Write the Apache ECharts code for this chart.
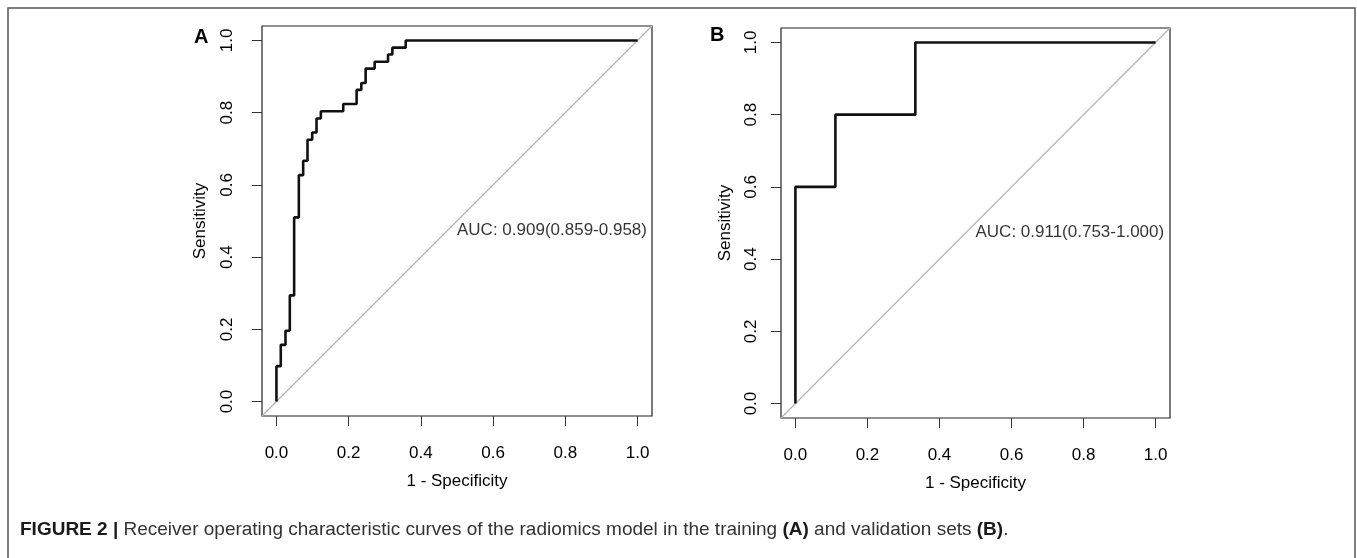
<!DOCTYPE html>
<html>
<head>
<meta charset="utf-8">
<title>ROC curves</title>
<script src="https://cdn.jsdelivr.net/npm/echarts@6/dist/echarts.min.js"></script>
<style>
html,body{margin:0;padding:0;background:#fff;}
#main{width:1357px;height:558px;}
</style>
</head>
<body>
<div id="main"></div>
<script>
// tick positions shared by both panels
var tickValues = [0, 0.2, 0.4, 0.6, 0.8, 1.0];

// training set ROC (1 - specificity, sensitivity)
var fprA = [0, 0, 0.012, 0.025, 0.037, 0.049, 0.062, 0.074, 0.086, 0.099, 0.111, 0.123, 0.185, 0.222, 0.235, 0.247, 0.272, 0.309, 0.321, 0.358, 1];
var tprA = [0, 0.098, 0.157, 0.196, 0.294, 0.510, 0.627, 0.667, 0.725, 0.745, 0.784, 0.804, 0.824, 0.863, 0.882, 0.922, 0.941, 0.961, 0.980, 1, 1];

// validation set ROC, panel B
var fprB = [0, 0, 0.111, 0.333, 1];
var tprB = [0, 0.6, 0.8, 1, 1];

// reference diagonal, corner to corner of the plot box
var diagEnds = [-0.04, 1.04];

var aucTextA = 'AUC: 0.909(0.859-0.958)';
var aucTextB = 'AUC: 0.911(0.753-1.000)';
var aucPos = [0.5, 0.475];

var fontFam = '"Liberation Sans", Arial, sans-serif';
var myChart = echarts.init(document.getElementById('main'));

function zipPts(xs, ys) {
    var out = [];
    for (var i = 0; i < xs.length; i++) out.push([xs[i], ys[i]]);
    return out;
}

function xAxisOf(idx, labelMargin, nameGap) {
    return {
        type: 'value', gridIndex: idx, min: -0.04, max: 1.04,
        name: '1 - Specificity', nameLocation: 'middle', nameGap: nameGap,
        nameTextStyle: {fontSize: 17, color: '#000', fontFamily: fontFam},
        axisLine: {show: false, onZero: false},
        axisTick: {show: true, inside: false, length: 10, customValues: tickValues, lineStyle: {color: '#333', width: 1}},
        axisLabel: {customValues: tickValues, margin: labelMargin, fontSize: 17, color: '#000', fontFamily: fontFam,
            formatter: function (v) { return v.toFixed(1); }},
        splitLine: {show: false}
    };
}

function yAxisOf(idx, labelMargin, nameGap) {
    return {
        type: 'value', gridIndex: idx, min: -0.04, max: 1.04,
        name: 'Sensitivity', nameLocation: 'middle', nameGap: nameGap,
        nameTextStyle: {fontSize: 17, color: '#000', fontFamily: fontFam},
        axisLine: {show: false, onZero: false},
        axisTick: {show: true, inside: false, length: 10, customValues: tickValues, lineStyle: {color: '#333', width: 1}},
        axisLabel: {customValues: tickValues, margin: labelMargin, rotate: 90, fontSize: 17, color: '#000', fontFamily: fontFam,
            formatter: function (v) { return v.toFixed(1); }},
        splitLine: {show: false}
    };
}

function diagSeries(idx) {
    return {
        type: 'line', xAxisIndex: idx, yAxisIndex: idx, z: 1,
        data: [[diagEnds[0], diagEnds[0]], [diagEnds[1], diagEnds[1]]],
        symbol: 'none', silent: true,
        lineStyle: {color: '#b4b4b4', width: 1.2}
    };
}

function rocSeries(idx, xs, ys) {
    return {
        type: 'line', xAxisIndex: idx, yAxisIndex: idx, z: 3,
        data: zipPts(xs, ys), step: 'end',
        symbol: 'none', silent: true,
        lineStyle: {color: '#111', width: 2.6}
    };
}

function aucSeries(idx, txt) {
    return {
        type: 'scatter', xAxisIndex: idx, yAxisIndex: idx, z: 4,
        data: [aucPos], symbolSize: 0, silent: true,
        label: {show: true, position: 'right', distance: 0, formatter: txt,
            fontSize: 17, color: '#000', fontFamily: fontFam}
    };
}

option = {
    backgroundColor: '#fff',
    animation: false,
    grid: [
        {left: 262, top: 26, width: 390, height: 390, show: true, borderColor: '#222', borderWidth: 1.2, backgroundColor: 'transparent'},
        {left: 781, top: 28, width: 389, height: 390, show: true, borderColor: '#222', borderWidth: 1.2, backgroundColor: 'transparent'}
    ],
    xAxis: [xAxisOf(0, 29, 57), xAxisOf(1, 29, 57)],
    yAxis: [yAxisOf(0, 26, 53), yAxisOf(1, 21, 47)],
    series: [
        diagSeries(0), rocSeries(0, fprA, tprA), aucSeries(0, aucTextA),
        diagSeries(1), rocSeries(1, fprB, tprB), aucSeries(1, aucTextB)
    ],
    graphic: [
        {type: 'rect', silent: true, z: 0, shape: {x: 8, y: 8, width: 1347, height: 600},
            style: {fill: 'none', stroke: '#555', lineWidth: 1.5}},
        {type: 'text', left: 194, top: 27, silent: true,
            style: {text: 'A', fontSize: 20, fontWeight: 'bold', fill: '#000', fontFamily: fontFam}},
        {type: 'text', left: 710, top: 25, silent: true,
            style: {text: 'B', fontSize: 20, fontWeight: 'bold', fill: '#000', fontFamily: fontFam}},
        {type: 'text', left: 20, top: 520, silent: true,
            style: {
                text: '{b|FIGURE 2 |} Receiver operating characteristic curves of the radiomics model in the training {b|(A)} and validation sets {b|(B)}.',
                fontSize: 19, fill: '#333', fontFamily: fontFam,
                rich: {b: {fontWeight: 'bold', fontSize: 19, fill: '#1a1a1a', fontFamily: fontFam}}
            }}
    ]
};

myChart.setOption(option, true);
</script>
</body>
</html>
